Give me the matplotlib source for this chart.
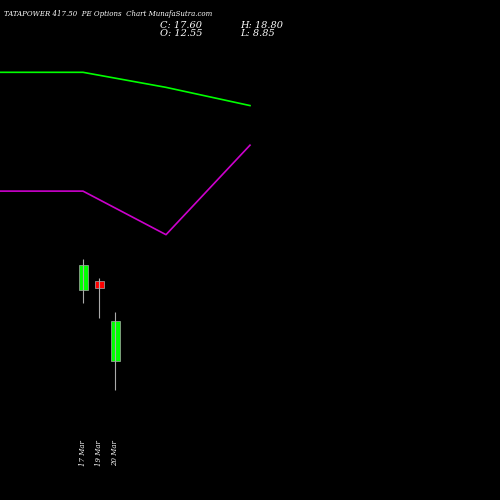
import matplotlib.pyplot as plt

dates = ['17 Mar', '19 Mar', '20 Mar']
x_candle = [83, 99, 115]
opens = [21.5, 22.65, 12.55]
closes = [24.7, 21.8, 17.60]
highs = [25.4, 23.0, 18.80]
lows = [19.9, 18.0, 8.85]

x_line = [0, 83, 166, 250]
upper = [49.0, 49.0, 47.1, 44.8]
lower = [34.0, 34.0, 28.5, 39.8]

fig = plt.figure(figsize=(5, 5), dpi=100, facecolor='black')
ax = fig.add_axes([0, 0, 1, 1], facecolor='black')
ax.set_xlim(0, 500)
ax.set_ylim(-5.0, 58.13)
ax.axis('off')

ax.plot(x_line, upper, color='#00ff00', lw=1.2)
ax.plot(x_line, lower, color='#cc00cc', lw=1.2)

for x, o, c, h, l in zip(x_candle, opens, closes, highs, lows):
    col = '#00ff00' if c >= o else '#ff0000'
    ax.vlines(x, l, h, color='#aaaaaa', lw=0.8)
    ax.bar(x, abs(c - o), bottom=min(o, c), width=9, color=col,
           edgecolor='#aaaaaa', linewidth=0.5)

for x, d in zip(x_candle, dates):
    ax.text(x, 2.6, d, rotation=90, color='white', fontsize=5,
            fontfamily='DejaVu Serif', style='italic', ha='center', va='top')

fig.text(0.008, 0.967, 'TATAPOWER 417.50  PE Options  Chart MunafaSutra.com',
         color='white', fontsize=5, fontfamily='DejaVu Serif', style='italic')
fig.text(0.32, 0.945, 'C: 17.60', color='white', fontsize=7, fontfamily='DejaVu Serif', style='italic')
fig.text(0.32, 0.928, 'O: 12.55', color='white', fontsize=7, fontfamily='DejaVu Serif', style='italic')
fig.text(0.48, 0.945, 'H: 18.80', color='white', fontsize=7, fontfamily='DejaVu Serif', style='italic')
fig.text(0.48, 0.928, 'L: 8.85', color='white', fontsize=7, fontfamily='DejaVu Serif', style='italic')

fig.savefig('out.png', facecolor='black')
